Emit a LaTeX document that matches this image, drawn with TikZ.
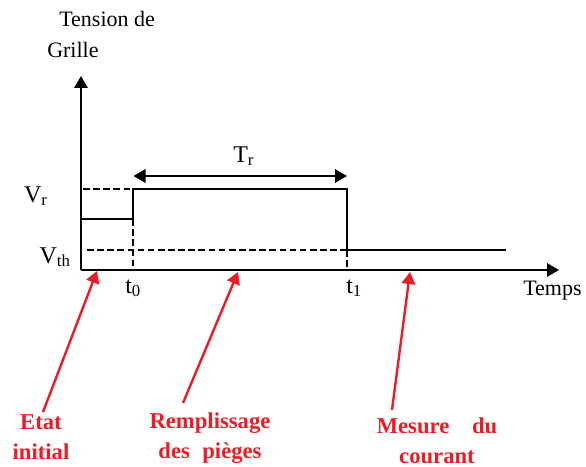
\documentclass[tikz,border=0pt]{standalone}
\usepackage{fontspec}
\setmainfont{Liberation Serif}
\usetikzlibrary{arrows.meta}
\definecolor{rouge}{RGB}{237, 28, 36}

\begin{document}
\begin{tikzpicture}[x=0.75pt, y=-0.75pt, >={Triangle[length=9pt, width=10pt]},
    texte/.style={inner sep=0pt, font=\fontsize{16.5}{20}\selectfont},
    repere/.style={inner sep=0pt, font=\fontsize{18}{22}\selectfont},
    signal/.style={line width=1.5pt},
    tirets/.style={line width=1.2pt, dash pattern=on 5pt off 2.6pt},
    rappel/.style={rouge, line width=1.8pt, ->},
    etiquette/.style={rouge, inner sep=0pt, align=center,
        font=\fontsize{17}{22.5}\selectfont\bfseries}]
    \useasboundingbox (0, 0) rectangle (586, 467);

    % Points de repere
    \coordinate (O) at (81, 270);
    \coordinate (ytop) at (81, 76);
    \coordinate (xfin) at (559, 270);
    \coordinate (t0h) at (133, 189);
    \coordinate (t0m) at (133, 219);
    \coordinate (t0b) at (133, 270);
    \coordinate (t1h) at (347, 189);
    \coordinate (t1m) at (347, 250);
    \coordinate (t1b) at (347, 270);
    \coordinate (init) at (81, 219);
    \coordinate (fin) at (506, 250);

    % Axes
    \draw[signal, ->] (O) -- (ytop);
    \draw[signal, ->] (O) -- (xfin);
    \node[texte, anchor=base west] (tension) at (59, 27) {Tension de};
    \node[texte, anchor=base west] (grille) at (47, 58) {Grille};
    \node[texte, anchor=base west] (temps) at (523, 295) {Temps};

    % Tension de grille
    \draw[signal] (init) -- (t0m) -- (t0h) -- (t1h) -- (t1m) -- (fin);

    % Niveaux et instants en pointilles
    \draw[tirets] (83, 189) -- (t0h);
    \draw[tirets] (87, 250) -- (t1m);
    \draw[tirets] (t0m) -- (t0b);
    \draw[tirets] (t1m) -- (t1b);

    % Niveaux
    \node[repere, anchor=base east] (vr) at (48, 202) {V\textsubscript{r}};
    \node[repere, anchor=base east] (vth) at (71, 263) {V\textsubscript{th}};
    \node[repere, anchor=base west] (lt0) at (125, 293) {t\textsubscript{0}};
    \node[repere, anchor=base west] (lt1) at (346, 293) {t\textsubscript{1}};

    % Duree T_r
    \coordinate (trg) at (133.5, 176);
    \coordinate (trd) at (347, 176);
    \draw[signal, <->] (trg) -- (trd);
    \node[repere, anchor=base west] (tr) at (233, 162) {T\textsubscript{r}};

    % Phases
    \node[etiquette, anchor=north] (etat) at (41, 414) {Etat\\initial};
    \node[etiquette, anchor=north] (remp) at (210, 413) {Remplissage\\des\hspace{0.3em} pièges};
    \node[etiquette, anchor=north] (mesure) at (437, 418) {Mesure\hspace{0.75em} du\\courant};
    \coordinate (q-etat) at (43, 412);
    \coordinate (p-etat) at (97, 271);
    \coordinate (q-remp) at (183, 403);
    \coordinate (p-remp) at (238, 272);
    \coordinate (q-mesure) at (392, 410);
    \coordinate (p-mesure) at (410, 272);
    \draw[rappel] (q-etat) -- (p-etat);
    \draw[rappel] (q-remp) -- (p-remp);
    \draw[rappel] (q-mesure) -- (p-mesure);
\end{tikzpicture}
\end{document}
